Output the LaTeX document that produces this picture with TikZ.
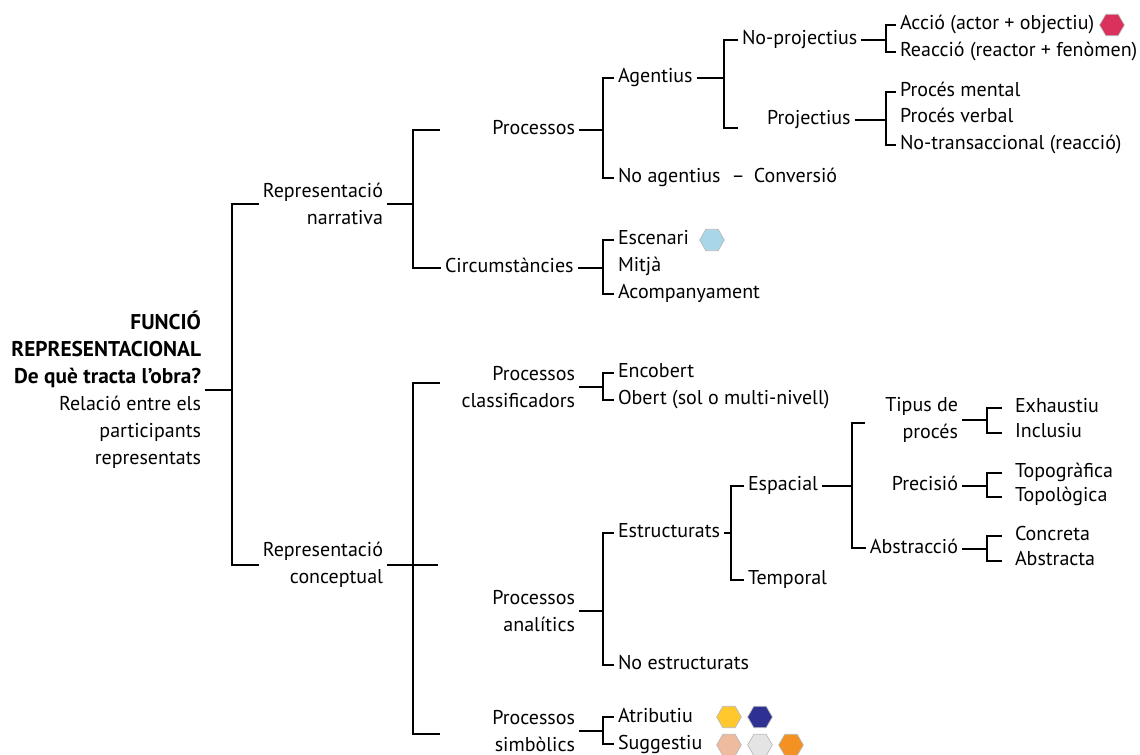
\documentclass[tikz,border=0pt]{standalone}
\usepackage{fontspec}
\setmainfont{PT Sans}
\usetikzlibrary{shapes.geometric}

\definecolor{hexRed}{HTML}{D9315B}
\definecolor{hexBlue}{HTML}{A9D6E8}
\definecolor{hexYellow}{HTML}{FFC92E}
\definecolor{hexNavy}{HTML}{2E3192}
\definecolor{hexPeach}{HTML}{EFBB9F}
\definecolor{hexGray}{HTML}{E4E4E4}
\definecolor{hexOrange}{HTML}{F39222}
\newcommand\rootbf[1]{{\fontsize{16}{20.3}\selectfont\bfseries #1}}

\begin{document}
\begin{tikzpicture}[
  x=0.75pt, y=-0.75pt,
  font=\fontsize{15}{20.3}\selectfont,
  txt/.style={inner xsep=3pt,inner ysep=0pt,outer sep=0pt,text=black},
  lft/.style={txt,anchor=west,text height=10.5pt,text depth=3pt},
  rgt/.style={txt,anchor=east,align=right},
  far/.style={lft,inner xsep=9.75pt},
  br/.style={line width=2.1pt,black},
  hex/.style={regular polygon,regular polygon sides=6,minimum size=18.5pt,
              inner sep=0pt,draw=black!28,line width=0.5pt}
]
\useasboundingbox (0,0) rectangle (1140,755);

%% ================= root =================
\node[rgt] (root) at (205,390) {\rootbf{FUNCIÓ}\\\rootbf{REPRESENTACIONAL}\\
  \rootbf{De què tracta l’obra?}\\Relació entre els\\participants\\representats};
\node[rgt] (repN) at (387,204) {Representació\\narrativa};
\node[rgt] (repC) at (387,565) {Representació\\conceptual};
\coordinate (sRoot) at (232,390);
\draw[br] (root) -- (sRoot);
\draw[br] (repN.west) -| (sRoot) |- (repC.west);

%% ================= narrativa =================
\node[rgt,text height=10.5pt,text depth=3pt] (proc) at (579,130) {Processos};
\node[lft] (circ) at (441,268) {Circumstàncies};
\coordinate (sN) at (413,204);
\coordinate (tProc) at (440,130);
\draw[br] (repN) -- (sN);
\draw[br] (tProc) -| (sN) |- (circ.west);

% processos
\node[lft] (agent) at (614,78) {Agentius};
\node[lft] (noag) at (614,178) {No agentius\hspace{0.55em}–\hspace{0.45em}Conversió};
\coordinate (sP) at (603,130);
\draw[br] (proc) -- (sP);
\draw[br] (agent.west) -| (sP) |- (noag.west);

% agentius
\node[lft] (nproj) at (738,40) {No-projectius};
\node[lft] (proj) at (763,120) {Projectius};
\coordinate (sAg) at (724,78);
\coordinate (tProj) at (738,128);
\draw[br] (agent) -- (sAg);
\draw[br] (nproj.west) -| (sAg) |- (tProj);

% no-projectius
\node[lft] (accio) at (896,25) {Acció (actor + objectiu)};
\node[lft] (reac) at (896,52) {Reacció (reactor + fenòmen)};
\node[hex,fill=hexRed] (hRed) at (1112,25) {};
\coordinate (sNp) at (886,40);
\draw[br] (nproj) -- (sNp);
\draw[br] (accio.west) -| (sNp) |- (reac.west);

% projectius
\node[lft] (pment) at (896,92) {Procés mental};
\node[lft] (pverb) at (896,118) {Procés verbal};
\node[lft] (ntran) at (896,145) {No-transaccional (reacció)};
\coordinate (sPj) at (886,120);
\draw[br] (proj) -- (sPj);
\draw[br] (pment.west) -| (sPj) |- (ntran.west);

% circumstancies
\node[lft] (esc) at (614,240) {Escenari};
\node[lft] (mitja) at (614,267) {Mitjà};
\node[lft] (acomp) at (614,294) {Acompanyament};
\node[hex,fill=hexBlue] (hBlue) at (712,240) {};
\coordinate (sCi) at (603,268);
\draw[br] (circ) -- (sCi);
\draw[br] (esc.west) -| (sCi) |- (acomp.west);

%% ================= conceptual =================
\coordinate (sC) at (413,565);
\coordinate (xC) at (438,565);
\coordinate (tCl) at (440,383);
\coordinate (tSi) at (440,734);
\draw[br] (repC) -- (xC);
\draw[br] (tCl) -| (sC) |- (tSi);

% classificadors
\node[rgt] (clas) at (579,387) {Processos\\classificadors};
\node[lft] (enc) at (614,373) {Encobert};
\node[lft] (obert) at (614,400) {Obert (sol o multi-nivell)};
\coordinate (sCl) at (603,387);
\draw[br] (clas) -- (sCl);
\draw[br] (enc.west) -| (sCl) |- (obert.west);

% analitics
\node[rgt] (anal) at (579,611) {Processos\\analítics};
\node[lft] (estr) at (614,533) {Estructurats};
\node[lft] (noestr) at (614,665) {No estructurats};
\coordinate (sAn) at (603,611);
\draw[br] (anal) -- (sAn);
\draw[br] (estr.west) -| (sAn) |- (noestr.west);

% estructurats
\node[lft] (esp) at (744,486) {Espacial};
\node[lft] (temp) at (744,580) {Temporal};
\coordinate (sEs) at (731,533);
\draw[br] (estr) -- (sEs);
\draw[br] (esp.west) -| (sEs) |- (temp.west);

% espacial
\node[rgt] (tipus) at (962,420) {Tipus de\\procés};
\node[rgt,text height=10.5pt,text depth=3pt] (prec) at (962,486) {Precisió};
\node[rgt,text height=10.5pt,text depth=3pt] (abst) at (962,549) {Abstracció};
\coordinate (sSp) at (852,486);
\coordinate (tTi) at (865,423);
\coordinate (tAb) at (866,548);
\draw[br] (esp) -- (sSp);
\draw[br] (tTi) -| (sSp) |- (tAb);

\foreach \p/\y/\ya/\yb/\ta/\tb in {tipus/420/408/433/Exhaustiu/Inclusiu,
    prec/486/473/497/Topogràfica/Topològica, abst/549/536/561/Concreta/Abstracta}{
  \node[far] (\p A) at (1002,\ya) {\ta};
  \node[far] (\p B) at (1002,\yb) {\tb};
  \coordinate (\p S) at (987,\y);
  \draw[br] (\p) -- (\p S);
  \draw[br] (\p A.west) -| (\p S) |- (\p B.west);
}

% simbolics
\node[rgt] (simb) at (579,731) {Processos\\simbòlics};
\node[lft] (atrib) at (614,717) {Atributiu};
\node[lft] (sugg) at (614,744) {Suggestiu};
\coordinate (sSi) at (603,731);
\draw[br] (simb) -- (sSi);
\draw[br] (atrib.west) -| (sSi) |- (sugg.west);
\foreach \n/\x/\y/\c in {hYel/729/717/hexYellow, hNav/760/717/hexNavy,
    hPea/729/745/hexPeach, hGra/760/745/hexGray, hOra/791/745/hexOrange}
  \node[hex,fill=\c] (\n) at (\x,\y) {};

\end{tikzpicture}
\end{document}
